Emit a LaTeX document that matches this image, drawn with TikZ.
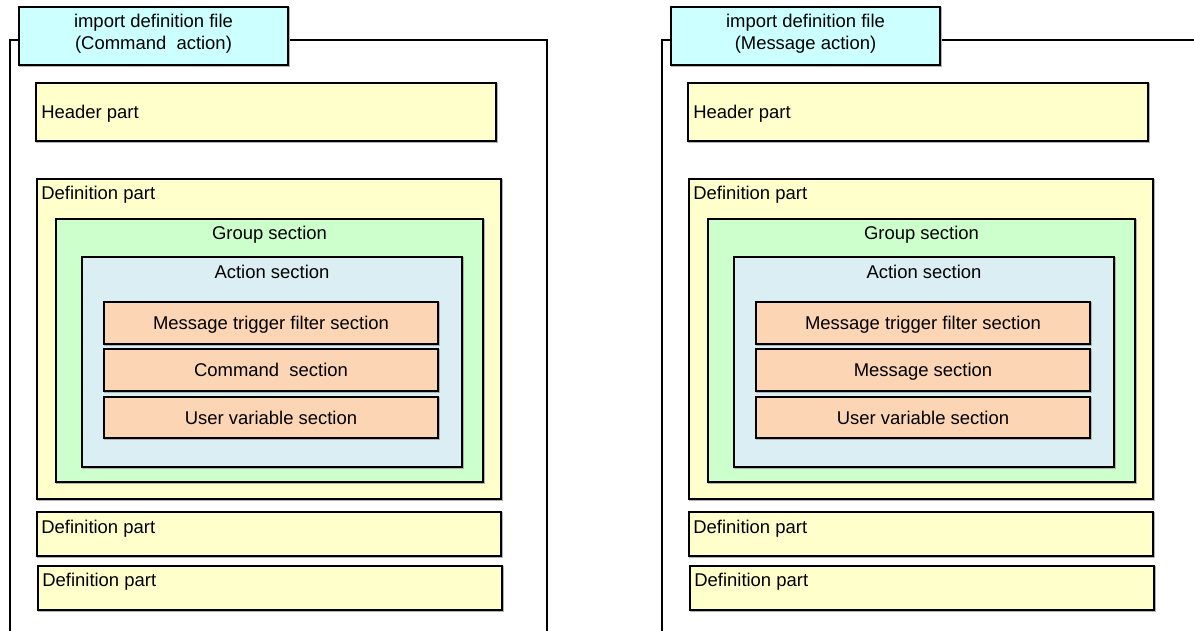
\documentclass[tikz,border=0pt]{standalone}
\usepackage{fontspec}
\setmainfont{Liberation Sans}
\definecolor{filecyan}{HTML}{CCFFFF}
\definecolor{partyellow}{HTML}{FFFFCC}
\definecolor{groupgreen}{HTML}{CCFFCC}
\definecolor{actionblue}{HTML}{DAEEF3}
\definecolor{sectorange}{HTML}{FCD5B4}

\begin{document}
\begin{tikzpicture}[x=0.02cm, y=-0.02cm,
    font=\fontsize{10.5}{12.6}\selectfont,
    box/.style={draw=black, line width=1.1pt,
        preaction={draw=black!30, line width=1.1pt, transform canvas={shift={(1.3,1.3)}}}},
    lbl/.style={inner sep=0pt, text height=0.72em, text depth=0.21em, anchor=west, yshift=-1.2pt},
    mid/.style={inner sep=0pt, text height=0.72em, text depth=0.21em, yshift=-1.2pt}]

    \useasboundingbox (0,0) rectangle (1194,630);

    % both import definition files, right one shifted by 652
    \foreach \dx/\side/\ttl/\sec in {0/L/Command~~action/Command~~section, 652/R/Message action/Message section} {
    \begin{scope}[shift={(\dx,0)}]

    % outer frame, open at the bottom
    \draw[line width=1pt] (10,632) -- (10,40) -- (19,40);
    \draw[line width=1pt] (288,40) -- (547,40) -- (547,632);

    % file title
    \draw[box, fill=filecyan] (19,7) rectangle (288,65);
    \node[inner sep=0pt, align=center] (title\side) at (153.5,34) {import definition file\\(\ttl)};

    % header part
    \draw[box, fill=partyellow] (36,83) rectangle (496,141);
    \node[lbl] (head\side) at (41,112) {Header part};

    % first definition part with its sections
    \draw[box, fill=partyellow] (37,179) rectangle (501,499);
    \node[lbl] (defA\side) at (41,193) {Definition part};
    \draw[box, fill=groupgreen] (56,219) rectangle (483,482);
    \node[mid] (group\side) at (269.5,233) {Group section};
    \draw[box, fill=actionblue] (82,257) rectangle (462,467);
    \node[mid] (action\side) at (272,272) {Action section};
    \draw[box, fill=sectorange] (104,302) rectangle (438,344);
    \node[mid] (filter\side) at (271,323) {Message trigger filter section};
    \draw[box, fill=sectorange] (104,349) rectangle (438,391);
    \node[mid] (body\side) at (271,370) {\sec};
    \draw[box, fill=sectorange] (104,397) rectangle (438,438);
    \node[mid] (uvar\side) at (271,417.5) {User variable section};

    % further definition parts
    \draw[box, fill=partyellow] (37,512) rectangle (501,556);
    \node[lbl] (defB\side) at (41,527) {Definition part};
    \draw[box, fill=partyellow] (38,566) rectangle (502,610);
    \node[lbl] (defC\side) at (42,580) {Definition part};

    \end{scope}
    }

\end{tikzpicture}
\end{document}
